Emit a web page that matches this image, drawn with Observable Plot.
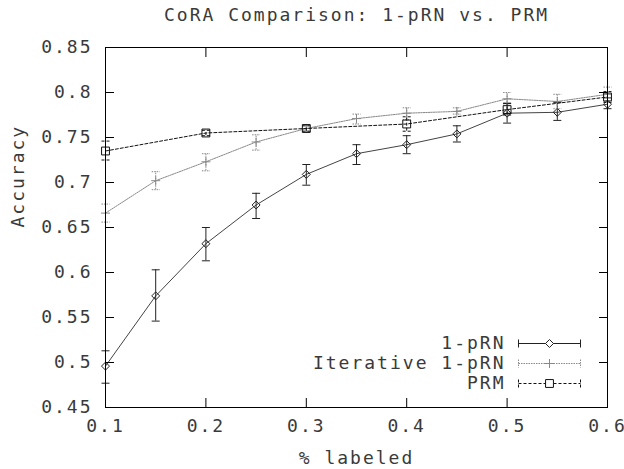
<!DOCTYPE html>
<html>
<head>
<meta charset="utf-8">
<script src="https://cdn.jsdelivr.net/npm/d3@7"></script>
<script src="https://cdn.jsdelivr.net/npm/@observablehq/plot@0.6"></script>
<style>
  html, body { margin: 0; padding: 0; background: #fff; }
</style>
</head>
<body>
<div id="chart"></div>
<script>
// ---- data ----
const title = "CoRA Comparison: 1-pRN vs. PRM";
const xLabel = "% labeled";
const yLabel = "Accuracy";
const xTicks = [0.1, 0.2, 0.3, 0.4, 0.5, 0.6];
const yTicks = [0.45, 0.5, 0.55, 0.6, 0.65, 0.7, 0.75, 0.8, 0.85];
const seriesNames = ["1-pRN", "Iterative 1-pRN", "PRM"];

const xFull = [0.1, 0.15, 0.2, 0.25, 0.3, 0.35, 0.4, 0.45, 0.5, 0.55, 0.6];
const prnMean = [0.496, 0.574, 0.632, 0.675, 0.709, 0.732, 0.742, 0.754, 0.777, 0.778, 0.787];
const prnLo   = [0.477, 0.546, 0.613, 0.660, 0.697, 0.720, 0.732, 0.745, 0.766, 0.769, 0.782];
const prnHi   = [0.513, 0.603, 0.650, 0.688, 0.720, 0.742, 0.752, 0.763, 0.788, 0.789, 0.794];

const itMean = [0.666, 0.702, 0.723, 0.745, 0.760, 0.771, 0.777, 0.779, 0.793, 0.790, 0.798];
const itLo   = [0.656, 0.692, 0.713, 0.736, 0.757, 0.765, 0.770, 0.776, 0.786, 0.782, 0.790];
const itHi   = [0.676, 0.712, 0.732, 0.753, 0.763, 0.776, 0.783, 0.783, 0.800, 0.798, 0.806];

const xPrm    = [0.1, 0.2, 0.3, 0.4, 0.5, 0.6];
const prmMean = [0.735, 0.755, 0.760, 0.765, 0.781, 0.795];
const prmLo   = [0.725, 0.752, 0.757, 0.757, 0.775, 0.789];
const prmHi   = [0.746, 0.758, 0.763, 0.773, 0.788, 0.801];

// ---- build tables ----
const mk = (xs, m, lo, hi) => xs.map((x, i) => ({x, y: m[i], lo: lo[i], hi: hi[i]}));
const prn = mk(xFull, prnMean, prnLo, prnHi);
const it = mk(xFull, itMean, itLo, itHi);
const prm = mk(xPrm, prmMean, prmLo, prmHi);

const styles = [
  {data: prn, stroke: "#222", line: "#444", dash: null, symbol: "diamond2", r: 3.6},
  {data: it, stroke: "#888", line: "#888", dash: "1.5,1", symbol: "plus", r: 3},
  {data: prm, stroke: "#111", line: "#111", dash: "3,2", symbol: "square2", r: 5}
];

const capSym = {draw(ctx) { ctx.moveTo(-4, 0); ctx.lineTo(4, 0); }};
const legendSym = {draw(ctx) {
  ctx.moveTo(-31, 0); ctx.lineTo(31, 0);
  ctx.moveTo(-31, -4); ctx.lineTo(-31, 4);
  ctx.moveTo(31, -4); ctx.lineTo(31, 4);
}};

const fmt = d => String(+d.toFixed(2));
const FS = 18;
const txt = "#3a3a3a";

const marks = [];
// series
styles.forEach(s => {
  marks.push(Plot.line(s.data, {x: "x", y: "y", stroke: s.line, strokeWidth: 1, strokeDasharray: s.dash}));
  marks.push(Plot.ruleX(s.data, {x: "x", y1: "lo", y2: "hi", stroke: s.stroke, strokeWidth: 1, strokeDasharray: s.dash}));
  marks.push(Plot.dot(s.data, {x: "x", y: "lo", symbol: capSym, fill: "none", stroke: s.stroke, strokeWidth: 1, strokeDasharray: s.dash}));
  marks.push(Plot.dot(s.data, {x: "x", y: "hi", symbol: capSym, fill: "none", stroke: s.stroke, strokeWidth: 1, strokeDasharray: s.dash}));
  marks.push(Plot.dot(s.data, {x: "x", y: "y", symbol: s.symbol, r: s.r, fill: "none", stroke: s.stroke, strokeWidth: 1}));
});

// legend
styles.forEach((s, i) => {
  const dy = -64 + 20 * i;
  marks.push(Plot.text([seriesNames[i]], {text: d => d, frameAnchor: "bottom-right", dx: -102, dy, textAnchor: "end", lineAnchor: "middle", fontSize: FS, fill: txt}));
  marks.push(Plot.dot([0], {frameAnchor: "bottom-right", dx: -58, dy, symbol: legendSym, fill: "none", stroke: s.stroke, strokeWidth: 1, strokeDasharray: s.dash}));
  marks.push(Plot.dot([0], {frameAnchor: "bottom-right", dx: -58, dy, symbol: s.symbol, r: s.r, fill: "white", stroke: s.stroke, strokeWidth: 1}));
});

// axes: inward ticks on all four sides
marks.push(Plot.axisX({anchor: "bottom", ticks: xTicks, tickSize: 9, insetBottom: 9, tickFormat: () => "", label: null, stroke: "#000"}));
marks.push(Plot.axisX({anchor: "top", ticks: xTicks, tickSize: 9, insetTop: 9, tickFormat: () => "", label: null, stroke: "#000"}));
marks.push(Plot.axisY({anchor: "left", ticks: yTicks, tickSize: 9, insetLeft: 9, tickFormat: () => "", label: null, stroke: "#000"}));
marks.push(Plot.axisY({anchor: "right", ticks: yTicks, tickSize: 9, insetRight: 9, tickFormat: () => "", label: null, stroke: "#000"}));
// tick labels
marks.push(Plot.axisX({anchor: "bottom", ticks: xTicks, tickSize: 0, tickPadding: 12, tickFormat: fmt, label: null, fontSize: FS, fill: txt}));
marks.push(Plot.axisY({anchor: "left", ticks: yTicks, tickSize: 0, tickPadding: 13, tickFormat: fmt, label: null, fontSize: FS, fill: txt}));
marks.push(Plot.frame({stroke: "#000", strokeWidth: 1}));

// titles
marks.push(Plot.text([title], {text: d => d, frameAnchor: "top", dy: -32, lineAnchor: "middle", fontSize: FS, fill: txt}));
marks.push(Plot.text([xLabel], {text: d => d, frameAnchor: "bottom", dy: 51, lineAnchor: "middle", fontSize: FS, fill: txt}));
marks.push(Plot.text([yLabel], {text: d => d, frameAnchor: "left", dx: -87, rotate: -90, lineAnchor: "middle", fontSize: FS, fill: txt}));

const chart = Plot.plot({
  width: 624,
  height: 469,
  marginLeft: 105,
  marginRight: 17,
  marginTop: 47,
  marginBottom: 62,
  x: {domain: [0.1, 0.6]},
  y: {domain: [0.45, 0.85]},
  style: {fontFamily: "'DejaVu Sans Mono', monospace", letterSpacing: "2px", background: "#fff"},
  marks
});
document.getElementById("chart").appendChild(chart);
</script>
</body>
</html>
